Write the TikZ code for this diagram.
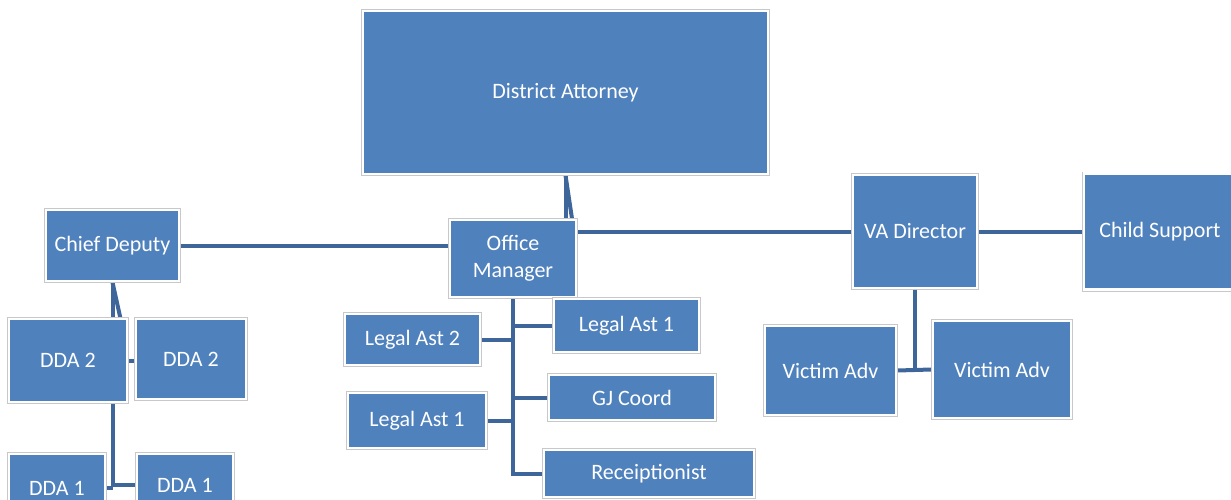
\documentclass[tikz,border=0pt]{standalone}
\usepackage{fontspec}
\setmainfont{Carlito}
\usetikzlibrary{backgrounds}
\definecolor{boxblue}{RGB}{79,129,189}
\definecolor{linkblue}{RGB}{62,102,155}
\definecolor{boxrim}{RGB}{200,200,204}
\begin{document}
\begin{tikzpicture}[x=1pt,y=-1pt,
  orgbox/.style={fill=boxblue, draw=white, line width=2.6pt,
    preaction={draw=boxrim, line width=4pt},
    text=white, inner sep=0pt, align=center,
    font=\fontsize{22}{27}\selectfont},
  link/.style={draw=linkblue, line width=4pt}]
\useasboundingbox (0,0) rectangle (1231,500);

% top level
\node[orgbox, minimum width=405pt, minimum height=163pt] (da) at (565.5,92.5) {District Attorney};
\node[orgbox, minimum width=133pt, minimum height=71pt] (cd) at (112.5,245.5) {Chief Deputy};
\node[orgbox, minimum width=126pt, minimum height=77pt] (om) at (513,258.5) {Office\\Manager};
\node[orgbox, minimum width=124pt, minimum height=113pt] (va) at (915,231.5) {VA Director};
\node[orgbox, minimum width=152pt, minimum height=116pt] (cs) at (1160,231.5) {Child Support};

% deputies
\node[orgbox, minimum width=118pt, minimum height=83pt] (dda2a) at (68,360.5) {DDA 2};
\node[orgbox, minimum width=110pt, minimum height=80pt] (dda2b) at (191,359) {DDA 2};
\node[orgbox, minimum width=96pt, minimum height=68pt] (dda1a) at (57,488) {DDA 1};
\node[orgbox, minimum width=96pt, minimum height=62pt] (dda1b) at (185,485) {DDA 1};

% office staff
\node[orgbox, minimum width=145pt, minimum height=53pt] (la1r) at (626.5,325.5) {Legal Ast 1};
\node[orgbox, minimum width=135pt, minimum height=51pt] (la2) at (412.5,339.5) {Legal Ast 2};
\node[orgbox, minimum width=166pt, minimum height=45pt] (gj) at (632,397.5) {GJ Coord};
\node[orgbox, minimum width=138pt, minimum height=55pt] (la1l) at (417,420.5) {Legal Ast 1};
\node[orgbox, minimum width=210pt, minimum height=47pt] (rec) at (649,473.5) {Receiptionist};

% victim advocates
\node[orgbox, minimum width=131pt, minimum height=89pt] (va1) at (830.5,370.5) {Victim Adv};
\node[orgbox, minimum width=138pt, minimum height=97pt] (va2) at (1002,369.5) {Victim Adv};

\begin{scope}[on background layer]
  % district attorney to office manager
  \draw[link] (da.south) -- (da.south |- om.north);
  \draw[link] (da.south) -- ([xshift=59pt]om.north);
  % horizontal links across the top row
  \draw[link] (cd.east) -- (cd.east -| om.west);
  \draw[link] (va.west) -- (va.west -| om.east);
  \draw[link] (va.east) -- (va.east -| cs.west);
  % chief deputy branch
  \draw[link] (cd.south) -- (cd.south |- dda2a.north);
  \draw[link] (cd.south) -- ([xshift=-8pt]dda2a.north east);
  \draw[link] (dda2a.east) -- (dda2b.west |- dda2a.east);
  \draw[link] (cd.south |- dda2a.south) -- (cd.south |- dda1b.west) -- (dda1b.west);
  \draw[link] (dda1a.east) -- (cd.south |- dda1a.east);
  % office manager branch
  \draw[link] (om.south) -- (om.south |- rec.west) -- (rec.west);
  \draw[link] (la1r.west) -- (om.south |- la1r.west);
  \draw[link] (la2.east) -- (om.south |- la2.east);
  \draw[link] (gj.west) -- (om.south |- gj.west);
  \draw[link] (la1l.east) -- (om.south |- la1l.east);
  % victim advocate branch
  \draw[link] (va.south) -- (va.south |- va1.east);
  \draw[link] (va1.east) -- (va2.west);
\end{scope}
\end{tikzpicture}
\end{document}
